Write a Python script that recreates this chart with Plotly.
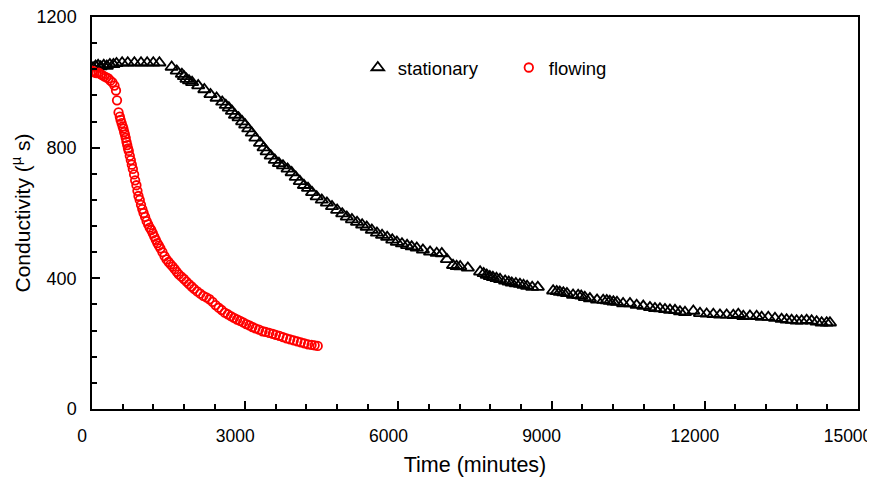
import plotly.graph_objects as go

stationary_time = [20, 70, 120, 170, 230, 290, 350, 420, 480, 590, 700, 830, 960, 1080, 1200, 1320,
                   1560, 1660, 1760, 1800, 1850, 1900, 1960, 2080, 2200, 2320, 2440, 2550, 2620, 2680,
                   2740, 2800, 2870, 2940, 3000, 3060, 3130, 3200, 3290, 3360, 3420, 3500, 3580, 3660,
                   3740, 3830, 3910, 3990, 4070, 4150, 4230, 4310, 4400, 4500, 4600, 4700, 4800, 4900,
                   4990, 5090, 5190, 5290, 5380, 5480, 5580, 5680, 5780, 5880, 5970, 6070, 6170, 6260,
                   6360, 6480, 6620, 6750, 6850, 6950, 7070, 7140, 7210, 7360, 7600, 7670, 7730, 7790,
                   7850, 7920, 7990, 8090, 8160, 8220, 8300, 8380, 8450, 8520, 8620, 8730,
                   9030, 9100, 9160, 9230, 9300, 9420, 9520, 9580, 9650, 9750, 9890, 10010, 10080,
                   10140, 10210, 10280, 10400, 10535, 10665, 10795, 10926, 11024, 11122, 11220, 11318,
                   11416, 11514, 11612, 11775, 11906, 12036, 12167, 12297, 12428, 12558, 12656, 12754,
                   12884, 13015, 13113, 13243, 13374, 13504, 13602, 13700, 13798, 13896, 13994, 14092,
                   14190, 14288, 14386, 14451]
stationary_cond = [1045, 1050, 1052, 1048, 1052, 1050, 1055, 1055, 1058, 1060, 1060, 1060, 1060, 1060, 1060, 1060,
                   1047, 1035, 1025, 1018, 1010, 1005, 1000, 990, 978, 963, 952, 940, 930, 922,
                   912, 900, 892, 880, 870, 858, 845, 830, 814, 800, 788, 775, 762, 752,
                   745, 735, 724, 710, 697, 685, 676, 663, 650, 640, 631, 620, 609, 598,
                   588, 580, 572, 564, 557, 548, 539, 532, 526, 518, 511, 506, 501, 497,
                   493, 487, 481, 477, 476, 458, 440, 437, 436, 432, 420, 415, 410, 406,
                   403, 400, 397, 392, 389, 386, 384, 382, 379, 376, 373, 373,
                   362, 360, 358, 356, 354, 349, 348, 346, 342, 338, 334, 333, 332,
                   330, 328, 327, 323, 323, 318, 315, 311, 308, 307, 305, 303,
                   302, 298, 296, 300, 293, 291, 290, 288, 288, 287, 290, 284,
                   285, 284, 281, 281, 278, 275, 273, 272, 270, 270, 272, 270,
                   267, 264, 264, 264]

flowing_time = [0, 20, 50, 90, 130, 170, 200, 240, 280, 320, 360, 400, 440, 470, 490, 520, 545, 560, 580,
                600, 615, 630, 645, 660, 675, 690, 705, 720, 740, 760, 780, 800, 825, 845, 870, 890,
                910, 935, 960, 985, 1010, 1040, 1070, 1100, 1130, 1160, 1190, 1220, 1250, 1280, 1310,
                1340, 1380, 1420, 1460, 1500, 1540, 1580, 1620, 1660, 1700, 1750, 1800, 1850, 1900,
                1950, 2000, 2060, 2120, 2180, 2240, 2300, 2360, 2420, 2480, 2540, 2600, 2660, 2720,
                2780, 2840, 2900, 2960, 3020, 3080, 3140, 3200, 3270, 3340, 3400, 3470, 3540, 3600,
                3670, 3740, 3810, 3880, 3950, 4020, 4090, 4160, 4230, 4300, 4360, 4420]
flowing_cond = [1032, 1035, 1030, 1028, 1030, 1025, 1022, 1018, 1015, 1012, 1005, 1000, 990, 975, 945, 908, 895, 885, 875,
                865, 858, 848, 840, 830, 818, 808, 798, 790, 775, 762, 748, 735, 718, 700, 685, 668,
                652, 640, 625, 612, 600, 588, 575, 565, 555, 548, 538, 528, 518, 508, 500,
                492, 480, 468, 458, 450, 443, 436, 428, 420, 412, 405, 398, 390, 382,
                375, 368, 360, 353, 346, 342, 336, 328, 318, 310, 303, 295, 290, 284,
                279, 274, 270, 265, 260, 256, 251, 247, 243, 238, 236, 233, 230, 227,
                224, 220, 216, 213, 210, 207, 204, 201, 198, 196, 195, 193]

x_ticks = [0, 3000, 6000, 9000, 12000, 15000]
y_ticks = [0, 400, 800, 1200]

FONT = "Liberation Sans, Arial, sans-serif"

fig = go.Figure()
fig.add_trace(go.Scatter(
    x=stationary_time, y=stationary_cond, mode="markers", name="stationary",
    marker=dict(symbol="triangle-up-open", size=11, color="black", line=dict(width=1.8, color="black")),
))
fig.add_trace(go.Scatter(
    x=flowing_time, y=flowing_cond, mode="markers", name="flowing",
    marker=dict(symbol="circle-open", size=8.5, color="red", line=dict(width=1.8, color="red")),
))

axis_common = dict(
    showgrid=False, zeroline=False, showline=True, linecolor="black", linewidth=1.5,
    mirror=True, ticks="inside", ticklen=8, tickwidth=1.5, tickcolor="black",
    automargin=False, ticklabeloverflow="allow",
)

# The page body adds an 8px offset, so the figure is sized to the visible window.
fig.update_layout(
    width=867, height=472,
    margin=dict(l=84, r=17, t=9, b=71),
    paper_bgcolor="white", plot_bgcolor="white",
    font=dict(family=FONT, color="black"),
    showlegend=True,
    legend=dict(
        orientation="h", x=0.347, y=0.87, xanchor="left", yanchor="middle",
        font=dict(family=FONT, size=18.5, color="black"),
        bgcolor="rgba(0,0,0,0)", entrywidth=106, itemwidth=30,
    ),
    xaxis=dict(
        range=[0, 15000], tickvals=x_ticks, ticktext=[str(v) for v in x_ticks],
        minor=dict(dtick=600, ticks="inside", ticklen=5, tickwidth=1.5, tickcolor="black"),
        title=dict(text="Time (minutes)", font=dict(family=FONT, size=21.5, color="black"), standoff=12),
        tickfont=dict(family=FONT, size=17.5, color="black"),
        ticklabelstandoff=10, ticklabelshift=-10,
        **axis_common,
    ),
    yaxis=dict(
        range=[0, 1200], tickvals=y_ticks, ticktext=[str(v) for v in y_ticks],
        minor=dict(dtick=80, ticks="inside", ticklen=5, tickwidth=1.5, tickcolor="black"),
        title=dict(text="Conductivity (<sup>µ</sup> s)", font=dict(family=FONT, size=21, color="black"), standoff=13),
        tickfont=dict(family=FONT, size=18, color="black"),
        ticklabelstandoff=10,
        **axis_common,
    ),
)

fig.write_html("out.html")
